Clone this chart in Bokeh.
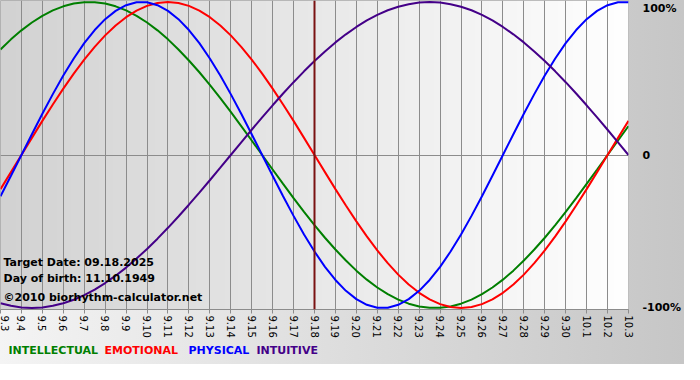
import numpy as np
from bokeh.plotting import figure
from bokeh.layouts import column
from bokeh.models import Range1d, FixedTicker, Span
from bokeh.embed import file_html
from bokeh.resources import INLINE
from bokeh.core.properties import value

# ---------------- data ----------------
day_labels = ["9.3", "9.4", "9.5", "9.6", "9.7", "9.8", "9.9", "9.10", "9.11", "9.12",
              "9.13", "9.14", "9.15", "9.16", "9.17", "9.18", "9.19", "9.20", "9.21", "9.22",
              "9.23", "9.24", "9.25", "9.26", "9.27", "9.28", "9.29", "9.30", "10.1", "10.2",
              "10.3"]

# values read every half day, from 9.3 to 10.3
intellectual = [0.690, 0.756, 0.815, 0.866, 0.910, 0.945, 0.972, 0.990, 0.999, 0.999,
                0.990, 0.972, 0.945, 0.910, 0.866, 0.815, 0.756, 0.690, 0.618, 0.541,
                0.458, 0.372, 0.282, 0.189, 0.095, 0.000, -0.095, -0.189, -0.282, -0.372,
                -0.458, -0.541, -0.618, -0.690, -0.756, -0.815, -0.866, -0.910, -0.945, -0.972,
                -0.990, -0.999, -0.999, -0.990, -0.972, -0.945, -0.910, -0.866, -0.815, -0.756,
                -0.690, -0.618, -0.541, -0.458, -0.372, -0.282, -0.189, -0.095, 0.000, 0.095,
                0.189]
emotional = [-0.223, -0.112, 0.000, 0.112, 0.223, 0.330, 0.434, 0.532, 0.624, 0.707,
             0.782, 0.847, 0.901, 0.944, 0.975, 0.994, 1.000, 0.994, 0.975, 0.944,
             0.901, 0.847, 0.782, 0.707, 0.624, 0.532, 0.434, 0.330, 0.223, 0.112,
             0.000, -0.112, -0.223, -0.330, -0.434, -0.532, -0.624, -0.707, -0.782, -0.847,
             -0.901, -0.944, -0.975, -0.994, -1.000, -0.994, -0.975, -0.944, -0.901, -0.847,
             -0.782, -0.707, -0.624, -0.532, -0.434, -0.330, -0.223, -0.112, 0.000, 0.112,
             0.223]
physical = [-0.270, -0.136, 0.000, 0.136, 0.270, 0.398, 0.520, 0.631, 0.731, 0.817,
            0.888, 0.942, 0.979, 0.998, 0.998, 0.979, 0.942, 0.888, 0.817, 0.731,
            0.631, 0.520, 0.398, 0.270, 0.136, 0.000, -0.136, -0.270, -0.398, -0.520,
            -0.631, -0.731, -0.817, -0.888, -0.942, -0.979, -0.998, -0.998, -0.979, -0.942,
            -0.888, -0.817, -0.731, -0.631, -0.520, -0.398, -0.270, -0.136, 0.000, 0.136,
            0.270, 0.398, 0.520, 0.631, 0.731, 0.817, 0.888, 0.942, 0.979, 0.998,
            0.998]
intuitive = [-0.969, -0.986, -0.997, -1.000, -0.997, -0.986, -0.969, -0.946, -0.916, -0.880,
             -0.837, -0.789, -0.736, -0.677, -0.614, -0.547, -0.476, -0.402, -0.325, -0.246,
             -0.165, -0.083, 0.000, 0.083, 0.165, 0.246, 0.325, 0.402, 0.476, 0.547,
             0.614, 0.677, 0.736, 0.789, 0.837, 0.880, 0.916, 0.946, 0.969, 0.986,
             0.997, 1.000, 0.997, 0.986, 0.969, 0.946, 0.916, 0.880, 0.837, 0.789,
             0.736, 0.677, 0.614, 0.547, 0.476, 0.402, 0.325, 0.246, 0.165, 0.083,
             0.000]

series_names = ["INTELLECTUAL", "EMOTIONAL", "PHYSICAL", "INTUITIVE"]
series_colors = ["#007f00", "#ff0000", "#0000ff", "#440088"]
series_values = [intellectual, emotional, physical, intuitive]

target_label = "9.18"
info_lines = ["Target Date: 09.18.2025", "Day of birth: 11.10.1949",
              "\u00a92010 biorhythm-calculator.net"]
pct_ticks = [-1, 0, 1]
pct_labels = ["-100%", "0", "100%"]

# ---------------- main figure ----------------
W = 684
MAIN_H = 340
LEG_H = 24
GRADIENT = {"background": "linear-gradient(to right, #f4f4f4, #c6c6c6)"}

days = list(range(len(day_labels)))
samples_per_day = 2
sample_x = np.arange(len(physical)) / samples_per_day
YLO, YHI = -1.01, 1.01

p = figure(width=W, height=MAIN_H, output_backend="svg", toolbar_location=None,
           x_range=Range1d(days[0], days[-1]), y_range=Range1d(YLO, YHI),
           y_axis_location="right",
           min_border_left=0, min_border_top=0, min_border_right=47, min_border_bottom=31)

p.border_fill_color = None
p.styles = GRADIENT
p.background_fill_color = "#ffffff"
p.outline_line_color = "#a8a8a8"

# frame gradient background
n = 640
g = np.linspace(0xd2, 0xff, n).astype(np.uint8)
img = np.zeros((1, n), dtype=np.uint32)
v = img.view(dtype=np.uint8).reshape((1, n, 4))
v[0, :, 0] = g
v[0, :, 1] = g
v[0, :, 2] = g
v[0, :, 3] = 255
bg = p.image_rgba(image=[img], x=days[0], y=YLO, dw=days[-1] - days[0], dh=YHI - YLO)
bg.level = "image"

# grids
p.xgrid.ticker = FixedTicker(ticks=days)
p.xgrid.grid_line_color = "#8c8c8c"
p.xgrid.grid_line_width = 1
p.ygrid.ticker = FixedTicker(ticks=[0])
p.ygrid.grid_line_color = "#8c8c8c"

# x axis
xa = p.xaxis[0]
xa.ticker = FixedTicker(ticks=days)
xa.major_label_overrides = {d: lab for d, lab in zip(days, day_labels)}
xa.major_label_orientation = -np.pi / 2
xa.major_label_text_font = "DejaVu Sans"
xa.major_label_text_font_size = "10px"
xa.major_label_text_color = "#000000"
xa.major_label_standoff = 2
xa.axis_line_color = "#8c8c8c"
xa.major_tick_line_color = "#8c8c8c"
xa.major_tick_out = 4
xa.major_tick_in = 0
xa.minor_tick_line_color = None

# right axis (percent)
ya = p.yaxis[0]
top_pos = 0.955
ya_ticks = [t if t != 1 else top_pos for t in pct_ticks]
ya.ticker = FixedTicker(ticks=ya_ticks)
ya.major_label_overrides = {t: lab for t, lab in zip(ya_ticks, pct_labels)}
ya.major_label_text_font = "DejaVu Sans"
ya.major_label_text_font_style = "bold"
ya.major_label_text_font_size = "11px"
ya.major_label_text_color = "#000000"
ya.major_label_standoff = 8
ya.axis_line_color = None
ya.major_tick_line_color = None
ya.minor_tick_line_color = None

# curves
for vals, col in zip(series_values, series_colors):
    p.line(sample_x, vals, line_color=col, line_width=2)

# target date line
p.add_layout(Span(location=day_labels.index(target_label), dimension="height",
                  line_color="#7a1212", line_width=2))

# info text
p.text(x=[0, 0, 0], y=[-0.70, -0.805, -0.93], text=info_lines, x_offset=3,
       text_font=value("DejaVu Sans"), text_font_style="bold", text_font_size="11px",
       text_color="#000000", text_baseline="middle", text_align="left")

# ---------------- legend strip ----------------
leg = figure(width=W, height=LEG_H, output_backend="svg", toolbar_location=None,
             x_range=Range1d(0, 1), y_range=Range1d(0, 1),
             min_border=0, x_axis_type=None, y_axis_type=None)
leg.border_fill_color = None
leg.background_fill_color = None
leg.outline_line_color = None
leg.grid.visible = False
leg.styles = GRADIENT

legend_px = [8, 104, 188, 256]
leg.text(x=[0] * len(series_names), y=[0.5] * len(series_names), x_offset=legend_px,
         y_offset=-2, text=series_names, text_color=series_colors,
         text_font=value("DejaVu Sans"), text_font_style="bold", text_font_size="11px",
         text_baseline="middle", text_align="left")

layout = column(p, leg, spacing=0)
open("out.html", "w").write(file_html(layout, INLINE))
